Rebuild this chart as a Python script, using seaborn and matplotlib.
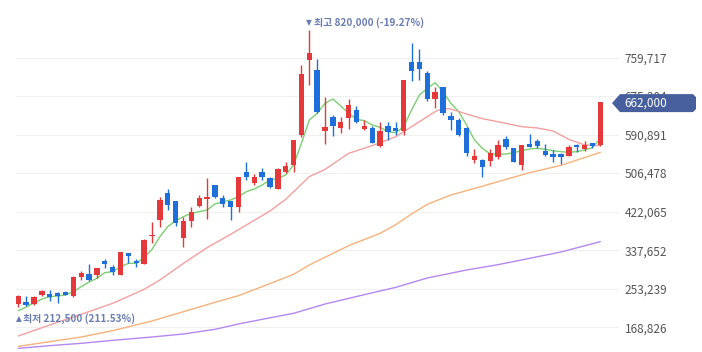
import numpy as np
import pandas as pd
import matplotlib
matplotlib.use('Agg')
import matplotlib.pyplot as plt
import seaborn as sns
from matplotlib.patches import Polygon
from matplotlib.transforms import IdentityTransform

# daily candles (won)
opens = [219000, 225000, 219000, 239500, 242500, 244500, 246000, 237500, 279500, 285500,
         283500, 314500, 301500, 283500, 330500, 314500, 307500, 369500, 404000, 462000,
         445500, 365000, 402500, 435000, 449000, 480500, 452000, 446000, 431500, 509000,
         484000, 509000, 495000, 471500, 508000, 524000, 590000, 754500, 732500, 598500,
         630000, 605500, 628000, 644500, 603000, 606000, 566000, 609500, 605500, 599500,
         750500, 750500, 726500, 668000, 694500, 632500, 623000, 605500, 535000, 535000,
         534000, 541000, 580500, 561500, 524000, 570000, 577500, 555500, 548500, 548500,
         544500, 568000, 559500, 571500, 568000]
highs = [239500, 237500, 237500, 249500, 249500, 246000, 248000, 281000, 293000, 307500,
         299500, 317500, 305000, 334500, 331000, 317500, 362000, 398500, 453500, 471500,
         445500, 411000, 433000, 458500, 495000, 480500, 458500, 446000, 498500, 530000,
         504500, 517000, 498500, 517000, 531500, 579500, 743500, 820000, 755500, 672500,
         634000, 630000, 669500, 653500, 623000, 609500, 619000, 617500, 617500, 711000,
         792000, 777500, 730000, 696000, 696000, 641000, 626500, 608000, 558500, 538000,
         559500, 579000, 588000, 561500, 568000, 592000, 580500, 569500, 557000, 550000,
         568000, 569500, 577500, 573000, 662000]
lows = [212500, 215500, 217500, 238000, 227000, 222500, 238500, 236000, 272500, 271000,
        276000, 299500, 283500, 282500, 309000, 301500, 307000, 354000, 387500, 425500,
        390500, 345500, 389000, 431500, 405000, 451000, 433000, 404000, 422000, 491500,
        480500, 491500, 473000, 471000, 506000, 509500, 586500, 699500, 637500, 570000,
        588000, 595000, 602500, 615500, 601000, 571500, 564500, 579000, 590000, 590000,
        709000, 710500, 664500, 648500, 634000, 601000, 588000, 544000, 529500, 498500,
        522000, 536500, 558500, 530000, 513500, 564500, 561000, 544500, 530000, 525500,
        544500, 553500, 555500, 561000, 566500]
closes = [238000, 217500, 236000, 248000, 236000, 238000, 240000, 279500, 287000, 272500,
          299500, 307500, 290500, 333000, 325000, 309000, 360000, 371000, 447500, 437500,
          398000, 402500, 420500, 451000, 455000, 455000, 438000, 433000, 497000, 498500,
          497000, 498500, 475500, 515000, 523000, 579000, 723500, 770500, 641000, 608000,
          609500, 618500, 655000, 617500, 610500, 573000, 598500, 597500, 599500, 710500,
          731000, 734000, 668000, 684000, 637500, 623000, 590000, 550000, 544000, 520500,
          550000, 568000, 564500, 531500, 568000, 564500, 566500, 546000, 542500, 542500,
          564500, 563000, 568000, 566500, 662000]

# moving averages (candle index, value)
ma5 = [205150, 213120, 221890, 230650, 235820, 237280, 239470, 246770, 257730, 267950,
       275980, 288400, 290580, 301540, 308840, 308840, 321980, 339510, 367260, 389160,
       402310, 411070, 418370, 422020, 425670, 438810, 443920, 447580, 454880, 465840,
       471670, 480440, 491390, 495040, 502340, 524250, 571710, 622830, 637430, 659340,
       668830, 653500, 637430, 624290, 621370, 611880, 606760, 597270, 595080, 608220,
       644730, 677590, 692200, 704610, 684900, 659340, 641080, 611880, 579020, 560770,
       548350, 547620, 548350, 551270, 555650, 559300, 560770, 558580, 555650, 553460,
       552000, 553460, 557110, 562220, 582670]
ma20_idx = [0, 4, 8, 12, 16, 18, 21, 24, 27, 29, 32, 34, 37, 39, 42, 45, 48, 51, 53, 54,
            55, 57, 59, 62, 64, 66, 68, 70, 72, 74]
ma20 = [149660, 173750, 197120, 221220, 251880, 272330, 308840, 343160, 372370, 392790,
        423470, 449030, 498690, 514640, 549810, 566610, 586320, 619180, 641080, 648390,
        646930, 635970, 625750, 615530, 608220, 605300, 598730, 580470, 568060, 566610]
ma60_idx = [0, 4, 8, 12, 17, 21, 25, 28, 31, 35, 37, 42, 46, 48, 50, 52, 55, 57, 61, 65, 69, 74]
ma60 = [127020, 137240, 147470, 161340, 182520, 202960, 223410, 238010, 257730, 284750,
        305190, 347550, 374560, 393550, 416920, 438080, 458530, 468020, 487740, 507460,
        523520, 551990]
ma120_idx = [0, 4, 8, 12, 17, 21, 25, 28, 31, 35, 39, 44, 48, 52, 57, 61, 65, 69, 74]
ma120 = [122640, 128480, 133590, 140160, 147470, 154040, 164260, 175950, 186170, 199310,
         219760, 240200, 256270, 276710, 294240, 305920, 319800, 333670, 356310]

yticks = [168826, 253239, 337652, 422065, 506478, 590891, 675304, 759717]

RED = '#e5383b'
BLUE = '#1f6fdb'
ANNOT = '#6a7db3'

sns.set_style('white')
plt.rcParams['font.family'] = ['Noto Sans CJK KR', 'DejaVu Sans']

df = pd.DataFrame({'open': opens, 'high': highs, 'low': lows, 'close': closes})
df['x'] = np.arange(len(df))
df['up'] = df['close'] >= df['open']
colors = np.where(df['up'], RED, BLUE)

fig = plt.figure(figsize=(7.02, 3.52), dpi=100)
ax = fig.add_axes([16 / 702, 0, (619 - 16) / 702, 1])

# moving average lines
ma_lines = pd.concat([
    pd.DataFrame({'x': np.arange(len(ma5)), 'v': ma5, 'ma': 'MA5'}),
    pd.DataFrame({'x': ma20_idx, 'v': ma20, 'ma': 'MA20'}),
    pd.DataFrame({'x': ma60_idx, 'v': ma60, 'ma': 'MA60'}),
    pd.DataFrame({'x': ma120_idx, 'v': ma120, 'ma': 'MA120'}),
])
palette = {'MA5': '#7ccf72', 'MA20': '#f2a0a0', 'MA60': '#f5b27a', 'MA120': '#b488ee'}
sns.lineplot(data=ma_lines, x='x', y='v', hue='ma', palette=palette, estimator=None,
             linewidth=1.0, legend=False, ax=ax, zorder=2)

# candles
ax.vlines(df['x'], df['low'], df['high'], colors=colors, linewidth=1.0, zorder=3)
body_lo = df[['open', 'close']].min(axis=1)
body_h = (df['close'] - df['open']).abs().clip(lower=700)
ax.bar(df['x'], body_h, bottom=body_lo, width=0.68, color=colors, linewidth=0, zorder=4)

ax.set_xlim(-0.29, (619 - 18.3) / 7.865)
ax.set_ylim(114600, 885700)
ax.set_yticks(yticks)
ax.set_yticklabels([f'{t:,}' for t in yticks])
ax.yaxis.tick_right()
ax.tick_params(axis='y', length=0, pad=4, labelcolor='#555555', labelsize=8.5)
ax.set_xticks([])
ax.set_xlabel('')
ax.set_ylabel('')
for s in ax.spines.values():
    s.set_visible(False)
ax.grid(axis='y', color='#f0f0f0', linewidth=0.8)
ax.set_axisbelow(True)

# high / low markers
hi = df['high'].idxmax()
lo = df['low'].idxmin()
last = df['close'].iloc[-1]
hi_pct = (last - df['high'].max()) / df['high'].max() * 100
lo_pct = (last - df['low'].min()) / df['low'].min() * 100
ax.annotate('▼', xy=(hi, df['high'].max()), xytext=(-3.5, 7), textcoords='offset pixels',
            ha='left', va='center', color=ANNOT, fontsize=5.5, family='DejaVu Sans', zorder=6)
ax.annotate(f'최고 {df["high"].max():,} ({hi_pct:.2f}%)', xy=(hi, df['high'].max()),
            xytext=(5, 7), textcoords='offset pixels', ha='left', va='center',
            color=ANNOT, fontsize=7.2, fontweight='bold', zorder=6)
ax.annotate('▲', xy=(lo, df['low'].min()), xytext=(-2.5, -11), textcoords='offset pixels',
            ha='left', va='center', color=ANNOT, fontsize=5.5, family='DejaVu Sans', zorder=6)
ax.annotate(f'최저 {df["low"].min():,} ({lo_pct:.2f}%)', xy=(lo, df['low'].min()),
            xytext=(4.5, -11), textcoords='offset pixels', ha='left', va='center',
            color=ANNOT, fontsize=7.2, fontweight='bold', zorder=6)

# current price tag on the right axis
yc = ax.transData.transform((0, last))[1] - 1
tag = Polygon([(612, yc), (620, yc + 9), (693, yc + 9), (696, yc + 6),
               (696, yc - 6), (693, yc - 9), (620, yc - 9)],
              closed=True, facecolor='#475f9c', edgecolor='none',
              transform=IdentityTransform(), zorder=10)
fig.add_artist(tag)
fig.text(624 / 702, yc / 352, f'{last:,}', color='white', fontsize=8.5, ha='left',
         va='center', zorder=11)

fig.text(633 / 702, 1 + 3 / 352, 'Linear  ▾', color='#666666', fontsize=8.5,
         ha='left', va='center')

fig.savefig('out.png', dpi=100)
